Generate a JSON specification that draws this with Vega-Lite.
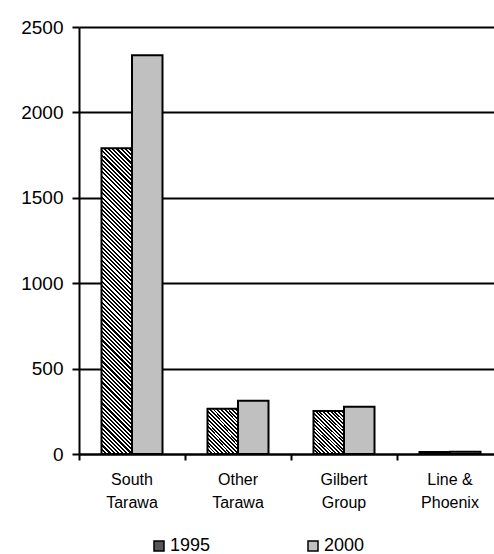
{
"$schema": "https://vega.github.io/schema/vega-lite/v6.json",
"width": 415,
"height": 427,
"autosize": {"type": "none"},
"padding": {"left": 79, "top": 27, "right": 0, "bottom": 100},
"config": {"font": "Liberation Sans", "view": {"stroke": null}},
"data": {"values": [
{"region": "South Tarawa", "year": "1995", "value": 1790},
{"region": "South Tarawa", "year": "2000", "value": 2335},
{"region": "Other Tarawa", "year": "1995", "value": 265},
{"region": "Other Tarawa", "year": "2000", "value": 312},
{"region": "Gilbert Group", "year": "1995", "value": 252},
{"region": "Gilbert Group", "year": "2000", "value": 276},
{"region": "Line & Phoenix", "year": "1995", "value": 12},
{"region": "Line & Phoenix", "year": "2000", "value": 13}
]},
"mark": {"type": "bar", "stroke": "black", "strokeWidth": 2},
"encoding": {
"x": {"field": "region", "type": "nominal", "sort": null,
 "scale": {"range": [0, 424], "paddingInner": 0, "paddingOuter": 0},
 "axis": {"title": null, "bandPosition": 0, "domainColor": "black", "domainWidth": 2, "tickColor": "black", "tickWidth": 2, "tickSize": 6, "labelFontSize": 16, "labelColor": "black", "labelAngle": 0, "labelPadding": 11, "labelLineHeight": 23, "labelBaseline": "top",
 "labelExpr": "datum.label == 'Line & Phoenix' ? ['Line &', 'Phoenix'] : split(datum.label, ' ')"}},
"xOffset": {"field": "year", "type": "nominal", "scale": {"paddingInner": 0, "paddingOuter": 0.7377}},
"y": {"field": "value", "type": "quantitative", "scale": {"domain": [0, 2500], "nice": false},
 "axis": {"title": null, "format": "d", "values": [0, 500, 1000, 1500, 2000, 2500], "grid": true, "gridColor": "black", "gridWidth": 2, "domainColor": "black", "domainWidth": 2, "tickColor": "black", "tickWidth": 2, "tickSize": 7, "labelFontSize": 19, "labelColor": "black", "labelPadding": 9}},
"fill": {
 "condition": [
  {"test": "datum.year == '1995' && datum.region == 'South Tarawa'", "value": {"gradient": "linear", "x1": 0, "y1": 1, "x2": 0.1086, "y2": -0.0889, "stops": [
{"offset":0,"color":"#000"},
{"offset":0.00625,"color":"#000"},{"offset":0.00625,"color":"#fff"},
{"offset":0.0125,"color":"#fff"},{"offset":0.0125,"color":"#000"},
{"offset":0.01875,"color":"#000"},{"offset":0.01875,"color":"#fff"},
{"offset":0.025,"color":"#fff"},{"offset":0.025,"color":"#000"},
{"offset":0.03125,"color":"#000"},{"offset":0.03125,"color":"#fff"},
{"offset":0.0375,"color":"#fff"},{"offset":0.0375,"color":"#000"},
{"offset":0.04375,"color":"#000"},{"offset":0.04375,"color":"#fff"},
{"offset":0.05,"color":"#fff"},{"offset":0.05,"color":"#000"},
{"offset":0.05625,"color":"#000"},{"offset":0.05625,"color":"#fff"},
{"offset":0.0625,"color":"#fff"},{"offset":0.0625,"color":"#000"},
{"offset":0.06875,"color":"#000"},{"offset":0.06875,"color":"#fff"},
{"offset":0.075,"color":"#fff"},{"offset":0.075,"color":"#000"},
{"offset":0.08125,"color":"#000"},{"offset":0.08125,"color":"#fff"},
{"offset":0.0875,"color":"#fff"},{"offset":0.0875,"color":"#000"},
{"offset":0.09375,"color":"#000"},{"offset":0.09375,"color":"#fff"},
{"offset":0.1,"color":"#fff"},{"offset":0.1,"color":"#000"},
{"offset":0.10625,"color":"#000"},{"offset":0.10625,"color":"#fff"},
{"offset":0.1125,"color":"#fff"},{"offset":0.1125,"color":"#000"},
{"offset":0.11875,"color":"#000"},{"offset":0.11875,"color":"#fff"},
{"offset":0.125,"color":"#fff"},{"offset":0.125,"color":"#000"},
{"offset":0.13125,"color":"#000"},{"offset":0.13125,"color":"#fff"},
{"offset":0.1375,"color":"#fff"},{"offset":0.1375,"color":"#000"},
{"offset":0.14375,"color":"#000"},{"offset":0.14375,"color":"#fff"},
{"offset":0.15,"color":"#fff"},{"offset":0.15,"color":"#000"},
{"offset":0.15625,"color":"#000"},{"offset":0.15625,"color":"#fff"},
{"offset":0.1625,"color":"#fff"},{"offset":0.1625,"color":"#000"},
{"offset":0.16875,"color":"#000"},{"offset":0.16875,"color":"#fff"},
{"offset":0.175,"color":"#fff"},{"offset":0.175,"color":"#000"},
{"offset":0.18125,"color":"#000"},{"offset":0.18125,"color":"#fff"},
{"offset":0.1875,"color":"#fff"},{"offset":0.1875,"color":"#000"},
{"offset":0.19375,"color":"#000"},{"offset":0.19375,"color":"#fff"},
{"offset":0.2,"color":"#fff"},{"offset":0.2,"color":"#000"},
{"offset":0.20625,"color":"#000"},{"offset":0.20625,"color":"#fff"},
{"offset":0.2125,"color":"#fff"},{"offset":0.2125,"color":"#000"},
{"offset":0.21875,"color":"#000"},{"offset":0.21875,"color":"#fff"},
{"offset":0.225,"color":"#fff"},{"offset":0.225,"color":"#000"},
{"offset":0.23125,"color":"#000"},{"offset":0.23125,"color":"#fff"},
{"offset":0.2375,"color":"#fff"},{"offset":0.2375,"color":"#000"},
{"offset":0.24375,"color":"#000"},{"offset":0.24375,"color":"#fff"},
{"offset":0.25,"color":"#fff"},{"offset":0.25,"color":"#000"},
{"offset":0.25625,"color":"#000"},{"offset":0.25625,"color":"#fff"},
{"offset":0.2625,"color":"#fff"},{"offset":0.2625,"color":"#000"},
{"offset":0.26875,"color":"#000"},{"offset":0.26875,"color":"#fff"},
{"offset":0.275,"color":"#fff"},{"offset":0.275,"color":"#000"},
{"offset":0.28125,"color":"#000"},{"offset":0.28125,"color":"#fff"},
{"offset":0.2875,"color":"#fff"},{"offset":0.2875,"color":"#000"},
{"offset":0.29375,"color":"#000"},{"offset":0.29375,"color":"#fff"},
{"offset":0.3,"color":"#fff"},{"offset":0.3,"color":"#000"},
{"offset":0.30625,"color":"#000"},{"offset":0.30625,"color":"#fff"},
{"offset":0.3125,"color":"#fff"},{"offset":0.3125,"color":"#000"},
{"offset":0.31875,"color":"#000"},{"offset":0.31875,"color":"#fff"},
{"offset":0.325,"color":"#fff"},{"offset":0.325,"color":"#000"},
{"offset":0.33125,"color":"#000"},{"offset":0.33125,"color":"#fff"},
{"offset":0.3375,"color":"#fff"},{"offset":0.3375,"color":"#000"},
{"offset":0.34375,"color":"#000"},{"offset":0.34375,"color":"#fff"},
{"offset":0.35,"color":"#fff"},{"offset":0.35,"color":"#000"},
{"offset":0.35625,"color":"#000"},{"offset":0.35625,"color":"#fff"},
{"offset":0.3625,"color":"#fff"},{"offset":0.3625,"color":"#000"},
{"offset":0.36875,"color":"#000"},{"offset":0.36875,"color":"#fff"},
{"offset":0.375,"color":"#fff"},{"offset":0.375,"color":"#000"},
{"offset":0.38125,"color":"#000"},{"offset":0.38125,"color":"#fff"},
{"offset":0.3875,"color":"#fff"},{"offset":0.3875,"color":"#000"},
{"offset":0.39375,"color":"#000"},{"offset":0.39375,"color":"#fff"},
{"offset":0.4,"color":"#fff"},{"offset":0.4,"color":"#000"},
{"offset":0.40625,"color":"#000"},{"offset":0.40625,"color":"#fff"},
{"offset":0.4125,"color":"#fff"},{"offset":0.4125,"color":"#000"},
{"offset":0.41875,"color":"#000"},{"offset":0.41875,"color":"#fff"},
{"offset":0.425,"color":"#fff"},{"offset":0.425,"color":"#000"},
{"offset":0.43125,"color":"#000"},{"offset":0.43125,"color":"#fff"},
{"offset":0.4375,"color":"#fff"},{"offset":0.4375,"color":"#000"},
{"offset":0.44375,"color":"#000"},{"offset":0.44375,"color":"#fff"},
{"offset":0.45,"color":"#fff"},{"offset":0.45,"color":"#000"},
{"offset":0.45625,"color":"#000"},{"offset":0.45625,"color":"#fff"},
{"offset":0.4625,"color":"#fff"},{"offset":0.4625,"color":"#000"},
{"offset":0.46875,"color":"#000"},{"offset":0.46875,"color":"#fff"},
{"offset":0.475,"color":"#fff"},{"offset":0.475,"color":"#000"},
{"offset":0.48125,"color":"#000"},{"offset":0.48125,"color":"#fff"},
{"offset":0.4875,"color":"#fff"},{"offset":0.4875,"color":"#000"},
{"offset":0.49375,"color":"#000"},{"offset":0.49375,"color":"#fff"},
{"offset":0.5,"color":"#fff"},{"offset":0.5,"color":"#000"},
{"offset":0.50625,"color":"#000"},{"offset":0.50625,"color":"#fff"},
{"offset":0.5125,"color":"#fff"},{"offset":0.5125,"color":"#000"},
{"offset":0.51875,"color":"#000"},{"offset":0.51875,"color":"#fff"},
{"offset":0.525,"color":"#fff"},{"offset":0.525,"color":"#000"},
{"offset":0.53125,"color":"#000"},{"offset":0.53125,"color":"#fff"},
{"offset":0.5375,"color":"#fff"},{"offset":0.5375,"color":"#000"},
{"offset":0.54375,"color":"#000"},{"offset":0.54375,"color":"#fff"},
{"offset":0.55,"color":"#fff"},{"offset":0.55,"color":"#000"},
{"offset":0.55625,"color":"#000"},{"offset":0.55625,"color":"#fff"},
{"offset":0.5625,"color":"#fff"},{"offset":0.5625,"color":"#000"},
{"offset":0.56875,"color":"#000"},{"offset":0.56875,"color":"#fff"},
{"offset":0.575,"color":"#fff"},{"offset":0.575,"color":"#000"},
{"offset":0.58125,"color":"#000"},{"offset":0.58125,"color":"#fff"},
{"offset":0.5875,"color":"#fff"},{"offset":0.5875,"color":"#000"},
{"offset":0.59375,"color":"#000"},{"offset":0.59375,"color":"#fff"},
{"offset":0.6,"color":"#fff"},{"offset":0.6,"color":"#000"},
{"offset":0.60625,"color":"#000"},{"offset":0.60625,"color":"#fff"},
{"offset":0.6125,"color":"#fff"},{"offset":0.6125,"color":"#000"},
{"offset":0.61875,"color":"#000"},{"offset":0.61875,"color":"#fff"},
{"offset":0.625,"color":"#fff"},{"offset":0.625,"color":"#000"},
{"offset":0.63125,"color":"#000"},{"offset":0.63125,"color":"#fff"},
{"offset":0.6375,"color":"#fff"},{"offset":0.6375,"color":"#000"},
{"offset":0.64375,"color":"#000"},{"offset":0.64375,"color":"#fff"},
{"offset":0.65,"color":"#fff"},{"offset":0.65,"color":"#000"},
{"offset":0.65625,"color":"#000"},{"offset":0.65625,"color":"#fff"},
{"offset":0.6625,"color":"#fff"},{"offset":0.6625,"color":"#000"},
{"offset":0.66875,"color":"#000"},{"offset":0.66875,"color":"#fff"},
{"offset":0.675,"color":"#fff"},{"offset":0.675,"color":"#000"},
{"offset":0.68125,"color":"#000"},{"offset":0.68125,"color":"#fff"},
{"offset":0.6875,"color":"#fff"},{"offset":0.6875,"color":"#000"},
{"offset":0.69375,"color":"#000"},{"offset":0.69375,"color":"#fff"},
{"offset":0.7,"color":"#fff"},{"offset":0.7,"color":"#000"},
{"offset":0.70625,"color":"#000"},{"offset":0.70625,"color":"#fff"},
{"offset":0.7125,"color":"#fff"},{"offset":0.7125,"color":"#000"},
{"offset":0.71875,"color":"#000"},{"offset":0.71875,"color":"#fff"},
{"offset":0.725,"color":"#fff"},{"offset":0.725,"color":"#000"},
{"offset":0.73125,"color":"#000"},{"offset":0.73125,"color":"#fff"},
{"offset":0.7375,"color":"#fff"},{"offset":0.7375,"color":"#000"},
{"offset":0.74375,"color":"#000"},{"offset":0.74375,"color":"#fff"},
{"offset":0.75,"color":"#fff"},{"offset":0.75,"color":"#000"},
{"offset":0.75625,"color":"#000"},{"offset":0.75625,"color":"#fff"},
{"offset":0.7625,"color":"#fff"},{"offset":0.7625,"color":"#000"},
{"offset":0.76875,"color":"#000"},{"offset":0.76875,"color":"#fff"},
{"offset":0.775,"color":"#fff"},{"offset":0.775,"color":"#000"},
{"offset":0.78125,"color":"#000"},{"offset":0.78125,"color":"#fff"},
{"offset":0.7875,"color":"#fff"},{"offset":0.7875,"color":"#000"},
{"offset":0.79375,"color":"#000"},{"offset":0.79375,"color":"#fff"},
{"offset":0.8,"color":"#fff"},{"offset":0.8,"color":"#000"},
{"offset":0.80625,"color":"#000"},{"offset":0.80625,"color":"#fff"},
{"offset":0.8125,"color":"#fff"},{"offset":0.8125,"color":"#000"},
{"offset":0.81875,"color":"#000"},{"offset":0.81875,"color":"#fff"},
{"offset":0.825,"color":"#fff"},{"offset":0.825,"color":"#000"},
{"offset":0.83125,"color":"#000"},{"offset":0.83125,"color":"#fff"},
{"offset":0.8375,"color":"#fff"},{"offset":0.8375,"color":"#000"},
{"offset":0.84375,"color":"#000"},{"offset":0.84375,"color":"#fff"},
{"offset":0.85,"color":"#fff"},{"offset":0.85,"color":"#000"},
{"offset":0.85625,"color":"#000"},{"offset":0.85625,"color":"#fff"},
{"offset":0.8625,"color":"#fff"},{"offset":0.8625,"color":"#000"},
{"offset":0.86875,"color":"#000"},{"offset":0.86875,"color":"#fff"},
{"offset":0.875,"color":"#fff"},{"offset":0.875,"color":"#000"},
{"offset":0.88125,"color":"#000"},{"offset":0.88125,"color":"#fff"},
{"offset":0.8875,"color":"#fff"},{"offset":0.8875,"color":"#000"},
{"offset":0.89375,"color":"#000"},{"offset":0.89375,"color":"#fff"},
{"offset":0.9,"color":"#fff"},{"offset":0.9,"color":"#000"},
{"offset":0.90625,"color":"#000"},{"offset":0.90625,"color":"#fff"},
{"offset":0.9125,"color":"#fff"},{"offset":0.9125,"color":"#000"},
{"offset":0.91875,"color":"#000"},{"offset":0.91875,"color":"#fff"},
{"offset":0.925,"color":"#fff"},{"offset":0.925,"color":"#000"},
{"offset":0.93125,"color":"#000"},{"offset":0.93125,"color":"#fff"},
{"offset":0.9375,"color":"#fff"},{"offset":0.9375,"color":"#000"},
{"offset":0.94375,"color":"#000"},{"offset":0.94375,"color":"#fff"},
{"offset":0.95,"color":"#fff"},{"offset":0.95,"color":"#000"},
{"offset":0.95625,"color":"#000"},{"offset":0.95625,"color":"#fff"},
{"offset":0.9625,"color":"#fff"},{"offset":0.9625,"color":"#000"},
{"offset":0.96875,"color":"#000"},{"offset":0.96875,"color":"#fff"},
{"offset":0.975,"color":"#fff"},{"offset":0.975,"color":"#000"},
{"offset":0.98125,"color":"#000"},{"offset":0.98125,"color":"#fff"},
{"offset":0.9875,"color":"#fff"},{"offset":0.9875,"color":"#000"},
{"offset":0.99375,"color":"#000"},{"offset":0.99375,"color":"#fff"},
{"offset":1,"color":"#fff"}
  ]}},
  {"test": "datum.year == '1995' && (datum.region == 'Other Tarawa' || datum.region == 'Gilbert Group')", "value": {"gradient": "linear", "x1": 0, "y1": 1, "x2": 0.79, "y2": -0.145, "stops": [
{"offset":0,"color":"#000"},
{"offset":0.025,"color":"#000"},{"offset":0.025,"color":"#fff"},
{"offset":0.05,"color":"#fff"},{"offset":0.05,"color":"#000"},
{"offset":0.075,"color":"#000"},{"offset":0.075,"color":"#fff"},
{"offset":0.1,"color":"#fff"},{"offset":0.1,"color":"#000"},
{"offset":0.125,"color":"#000"},{"offset":0.125,"color":"#fff"},
{"offset":0.15,"color":"#fff"},{"offset":0.15,"color":"#000"},
{"offset":0.175,"color":"#000"},{"offset":0.175,"color":"#fff"},
{"offset":0.2,"color":"#fff"},{"offset":0.2,"color":"#000"},
{"offset":0.225,"color":"#000"},{"offset":0.225,"color":"#fff"},
{"offset":0.25,"color":"#fff"},{"offset":0.25,"color":"#000"},
{"offset":0.275,"color":"#000"},{"offset":0.275,"color":"#fff"},
{"offset":0.3,"color":"#fff"},{"offset":0.3,"color":"#000"},
{"offset":0.325,"color":"#000"},{"offset":0.325,"color":"#fff"},
{"offset":0.35,"color":"#fff"},{"offset":0.35,"color":"#000"},
{"offset":0.375,"color":"#000"},{"offset":0.375,"color":"#fff"},
{"offset":0.4,"color":"#fff"},{"offset":0.4,"color":"#000"},
{"offset":0.425,"color":"#000"},{"offset":0.425,"color":"#fff"},
{"offset":0.45,"color":"#fff"},{"offset":0.45,"color":"#000"},
{"offset":0.475,"color":"#000"},{"offset":0.475,"color":"#fff"},
{"offset":0.5,"color":"#fff"},{"offset":0.5,"color":"#000"},
{"offset":0.525,"color":"#000"},{"offset":0.525,"color":"#fff"},
{"offset":0.55,"color":"#fff"},{"offset":0.55,"color":"#000"},
{"offset":0.575,"color":"#000"},{"offset":0.575,"color":"#fff"},
{"offset":0.6,"color":"#fff"},{"offset":0.6,"color":"#000"},
{"offset":0.625,"color":"#000"},{"offset":0.625,"color":"#fff"},
{"offset":0.65,"color":"#fff"},{"offset":0.65,"color":"#000"},
{"offset":0.675,"color":"#000"},{"offset":0.675,"color":"#fff"},
{"offset":0.7,"color":"#fff"},{"offset":0.7,"color":"#000"},
{"offset":0.725,"color":"#000"},{"offset":0.725,"color":"#fff"},
{"offset":0.75,"color":"#fff"},{"offset":0.75,"color":"#000"},
{"offset":0.775,"color":"#000"},{"offset":0.775,"color":"#fff"},
{"offset":0.8,"color":"#fff"},{"offset":0.8,"color":"#000"},
{"offset":0.825,"color":"#000"},{"offset":0.825,"color":"#fff"},
{"offset":0.85,"color":"#fff"},{"offset":0.85,"color":"#000"},
{"offset":0.875,"color":"#000"},{"offset":0.875,"color":"#fff"},
{"offset":0.9,"color":"#fff"},{"offset":0.9,"color":"#000"},
{"offset":0.925,"color":"#000"},{"offset":0.925,"color":"#fff"},
{"offset":0.95,"color":"#fff"},{"offset":0.95,"color":"#000"},
{"offset":0.975,"color":"#000"},{"offset":0.975,"color":"#fff"},
{"offset":1,"color":"#fff"}
  ]}}
 ],
 "field": "year", "type": "nominal",
 "scale": {"domain": ["1995", "2000"], "range": ["#555555", "#c0c0c0"]},
 "legend": {"title": null, "orient": "none", "legendX": 71, "legendY": 510, "direction": "horizontal", "columns": 2, "columnPadding": 93, "symbolType": "square", "symbolSize": 100, "symbolStrokeColor": "black", "symbolStrokeWidth": 1.5, "labelFontSize": 18, "labelColor": "black", "labelOffset": 2,
  "encode": {"symbols": {"update": {"fill": [{"test": "datum.label == '1995' || datum.value == '1995'", "value": {"gradient": "linear", "x1": 0, "y1": 1, "x2": 1, "y2": 0, "stops": [{"offset": 0, "color": "#000"}, {"offset": 0.1667, "color": "#000"}, {"offset": 0.1667, "color": "#fff"}, {"offset": 0.3333, "color": "#fff"}, {"offset": 0.3333, "color": "#000"}, {"offset": 0.5, "color": "#000"}, {"offset": 0.5, "color": "#fff"}, {"offset": 0.6667, "color": "#fff"}, {"offset": 0.6667, "color": "#000"}, {"offset": 0.8333, "color": "#000"}, {"offset": 0.8333, "color": "#fff"}, {"offset": 1, "color": "#fff"}]}}, {"value": "#c0c0c0"}], "stroke": {"value": "black"}, "strokeWidth": {"value": 1.5}}}}}
}
}
}
